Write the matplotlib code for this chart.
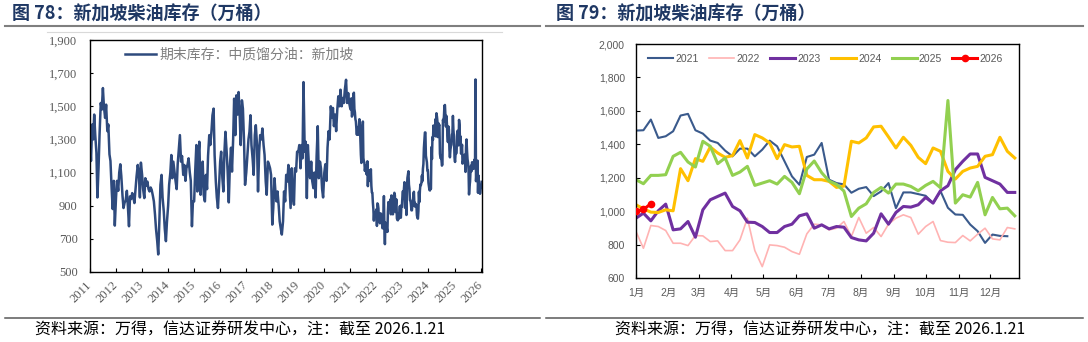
import matplotlib
matplotlib.use("Agg")
import matplotlib.pyplot as plt
import matplotlib.dates as mdates
from matplotlib.lines import Line2D
from matplotlib.ticker import FuncFormatter
import numpy as np
import pandas as pd

plt.rcParams["font.family"] = ["Liberation Sans", "Noto Sans CJK SC", "DejaVu Sans"]

W, H = 1088, 342

# ---- left chart: semi-monthly readings 2011-2020 (万桶) ----
stock_2011 = [1300, 1170, 1390, 1300, 1450, 1330, 1220, 950, 1130, 1330, 1520, 1480,
              1610, 1500, 1430, 1510, 1350, 1390, 1210, 1170, 1000, 880, 1050, 780]
stock_2012 = [950, 1050, 990, 1100, 1150, 1080, 960, 886, 920, 930, 990, 900,
              776, 956, 940, 976, 950, 916, 1000, 1076, 1146, 1100, 950, 1160]
stock_2013 = [1086, 1000, 946, 1066, 1020, 1046, 1000, 986, 1010, 996, 960, 926,
              846, 760, 686, 606, 820, 1026, 1086, 950, 866, 760, 686, 800]
stock_2014 = [900, 1026, 1100, 1206, 1066, 1166, 1100, 1050, 1000, 1150, 1250, 1326,
              1166, 1200, 1086, 1146, 1050, 1126, 1150, 1186, 1100, 1050, 776, 926]
stock_2015 = [926, 1100, 1266, 986, 1200, 1286, 966, 1086, 1166, 966, 926, 1086,
              1000, 1200, 1326, 1266, 1350, 1446, 1486, 1206, 1046, 950, 886, 1006]
stock_2016 = [1166, 1226, 1066, 986, 1226, 1346, 1226, 1106, 920, 1126, 1250, 1106,
              1300, 1546, 1326, 1566, 1450, 1586, 1446, 1266, 1536, 1486, 1286, 1026]
stock_2017 = [1100, 1186, 1300, 1346, 1446, 1266, 1180, 1086, 1326, 1386, 1266, 986,
              1226, 1326, 1300, 1366, 1266, 1206, 1046, 966, 1166, 1150, 1126, 1086]
stock_2018 = [786, 886, 1066, 980, 926, 986, 900, 806, 760, 726, 806, 986,
              926, 1086, 1046, 1146, 1000, 886, 1126, 966, 906, 1126, 1106, 1226]
stock_2019 = [1226, 1266, 1126, 1266, 1186, 1646, 1226, 1286, 946, 1266, 1126, 1066,
              1166, 1050, 1006, 1100, 950, 1200, 1380, 1066, 1166, 1126, 1000, 950]
stock_2020 = [1100, 1150, 1050, 1250, 1350, 1300, 1500, 1430, 1490, 1380, 1450, 1350,
              1480, 1560, 1500, 1600, 1500, 1550, 1520, 1600, 1660, 1520, 1580, 1520]

# ---- right chart: weekly values by year (万桶) ----
s2021 = [1482, 1484, 1548, 1438, 1448, 1478, 1572, 1582, 1484, 1464, 1422, 1408, 1362,
         1328, 1374, 1374, 1328, 1368, 1422, 1388, 1298, 1208, 1158, 1324, 1338, 1408,
         1188, 1168, 1160, 1110, 1134, 1144, 1090, 1118, 1168, 1018, 1112, 1112, 1102,
         1092, 1048, 1120, 1020, 980, 978, 920, 880, 810, 860, 852, 850]
s2022 = [878, 778, 914, 908, 884, 808, 808, 794, 854, 852, 818, 822, 764,
         764, 828, 958, 764, 668, 798, 794, 784, 758, 742, 864, 922, 918,
         888, 898, 938, 848, 962, 868, 902, 848, 922, 958, 978, 962, 862,
         908, 938, 824, 814, 812, 854, 822, 862, 898, 834, 828, 902, 894]
s2023 = [958, 988, 942, 1002, 1042, 888, 894, 938, 844, 1008, 1068, 1088, 1108,
         1028, 1002, 934, 932, 908, 872, 872, 908, 922, 972, 984, 898, 918,
         894, 908, 904, 842, 828, 822, 868, 984, 922, 992, 1028, 1024, 1038,
         1082, 1048, 1122, 1152, 1248, 1298, 1342, 1342, 1202, 1182, 1162, 1112, 1112]
s2024 = [1038, 1014, 994, 992, 1008, 1002, 1254, 1182, 1314, 1298, 1384, 1348, 1322,
         1332, 1422, 1318, 1458, 1438, 1408, 1314, 1398, 1384, 1388, 1214, 1188, 1188,
         1178, 1142, 1150, 1418, 1408, 1438, 1504, 1508, 1444, 1378, 1442, 1394, 1322,
         1284, 1378, 1358, 1238, 1192, 1238, 1258, 1268, 1328, 1338, 1442, 1358, 1318]
s2025 = [1188, 1164, 1214, 1214, 1218, 1328, 1352, 1294, 1264, 1418, 1388, 1284, 1318,
         1214, 1234, 1268, 1154, 1168, 1182, 1162, 1208, 1172, 1104, 1252, 1300, 1230,
         1180, 1160, 1120, 968, 1018, 1044, 1112, 1142, 1108, 1162, 1162, 1148, 1122,
         1154, 1178, 1140, 1662, 1048, 1098, 1084, 1172, 978, 1082, 1014, 1018, 972]
s2026 = [998, 1010, 1044]

years = [2021, 2022, 2023, 2024, 2025, 2026]
colors = ["#3A5A8C", "#FFB3B3", "#7030A0", "#FFC000", "#92D050", "#FF0000"]
widths = [1.5, 1.2, 2.2, 2.2, 2.2, 2.2]
month_days = [0, 31, 59, 90, 120, 151, 181, 212, 243, 273, 304, 334]
month_labels = [f"{m}月" for m in range(1, 13)]

GREY = "#595959"
BLUE = "#2E4A7D"
TITLE = "#1F3864"
comma = FuncFormatter(lambda v, _: f"{v:,.0f}")

fig = plt.figure(figsize=(W / 100, H / 100), dpi=100)


def fx(px):
    return px / W


def fy(py):
    return 1 - py / H


# ---- left: full history ----
early = stock_2011 + stock_2012 + stock_2013 + stock_2014 + stock_2015 + \
    stock_2016 + stock_2017 + stock_2018 + stock_2019 + stock_2020
early_dates = pd.date_range("2011-01-01", "2020-12-31", freq="SMS")
weekly = [s2021, s2022, s2023, s2024, s2025, s2026]
week_dates = []
week_vals = []
for yr, vals in zip(years, weekly):
    week_dates += list(pd.Timestamp(f"{yr}-01-01") + pd.to_timedelta(7 * np.arange(len(vals)), unit="D"))
    week_vals += vals
dates = list(early_dates) + week_dates
values = early + week_vals

ax1 = fig.add_axes([fx(90), fy(272), fx(392), 232 / H])
ax1.plot(dates, values, color=BLUE, lw=1.8, label="期末库存：中质馏分油：新加坡")
ax1.set_xlim(pd.Timestamp("2011-01-01"), pd.Timestamp("2026-01-21"))
ax1.set_ylim(500, 1900)
ax1.set_yticks(range(500, 1901, 200))
ax1.yaxis.set_major_formatter(comma)
ax1.xaxis.set_major_locator(mdates.YearLocator())
ax1.xaxis.set_major_formatter(mdates.DateFormatter("%Y"))
ax1.tick_params(axis="y", direction="in", length=2.5, pad=9, labelsize=9,
                labelcolor=GREY, labelfontfamily="Liberation Serif")
ax1.tick_params(axis="x", direction="in", length=3, pad=8, labelsize=9,
                labelcolor=GREY, labelfontfamily="Liberation Serif")
plt.setp(ax1.get_xticklabels(), rotation=45, ha="right", va="center", rotation_mode="anchor")
for sp in ax1.spines.values():
    sp.set_linewidth(1.0)
ax1.legend(loc="center left", bbox_to_anchor=((125 - 90) / 392, 1 - 15 / 232),
           frameon=False, prop={"family": "Noto Sans CJK SC", "size": 10},
           handlelength=2.2, handletextpad=0.25, borderpad=0, borderaxespad=0,
           labelcolor="#7F7F7F")

# ---- right: seasonal comparison ----
ax2 = fig.add_axes([fx(636), fy(278), fx(383), 234 / H])
for yr, vals, c, lw in zip(years, weekly, colors, widths):
    x = 7 * np.arange(len(vals))
    if yr == 2026:
        ax2.plot(x, vals, color=c, lw=lw, marker="o", ms=4.5, label=str(yr), zorder=5)
    else:
        ax2.plot(x, vals, color=c, lw=lw, label=str(yr))
ax2.set_xlim(0, 361)
ax2.set_ylim(600, 2000)
ax2.set_yticks(range(600, 2001, 200))
ax2.yaxis.set_major_formatter(comma)
ax2.set_xticks(month_days)
ax2.set_xticklabels(month_labels)
ax2.tick_params(axis="y", direction="in", length=3, pad=8, labelsize=7.5, labelcolor=GREY)
ax2.tick_params(axis="x", direction="in", length=3, pad=7, labelsize=7.5, labelcolor=GREY)
for sp in ax2.spines.values():
    sp.set_linewidth(1.0)
ax2.legend(ncol=6, loc="center", bbox_to_anchor=(0.495, 1 - 15 / 234), frameon=False,
           fontsize=7.5, handlelength=2.4, handletextpad=0.2, columnspacing=1.0,
           borderpad=0, borderaxespad=0, labelcolor=GREY)

# ---- titles, rules and notes ----
fig.text(fx(12), fy(14), "图 78：新加坡柴油库存（万桶）", fontsize=13, fontweight="bold",
         color=TITLE, va="center", family="Noto Sans CJK SC")
fig.text(fx(556), fy(14), "图 79：新加坡柴油库存（万桶）", fontsize=13, fontweight="bold",
         color=TITLE, va="center", family="Noto Sans CJK SC")
for x0, x1 in [(5, 540), (546, 1083)]:
    fig.add_artist(Line2D([fx(x0), fx(x1)], [fy(26), fy(26)], color="#7F7F7F", lw=1.5))
    fig.add_artist(Line2D([fx(x0), fx(x1)], [fy(318), fy(318)], color="#595959", lw=1.1))
fig.add_artist(Line2D([fx(47), fx(502)], [fy(32), fy(32)], color="#D9D9D9", lw=0.8))

note = "资料来源：万得，信达证券研发中心，注：截至 2026.1.21"
fig.text(fx(35), fy(330), note, fontsize=11.5, va="center", family="Noto Sans CJK SC")
fig.text(fx(615), fy(330), note, fontsize=11.5, va="center", family="Noto Sans CJK SC")

fig.savefig("out.png", dpi=100)
